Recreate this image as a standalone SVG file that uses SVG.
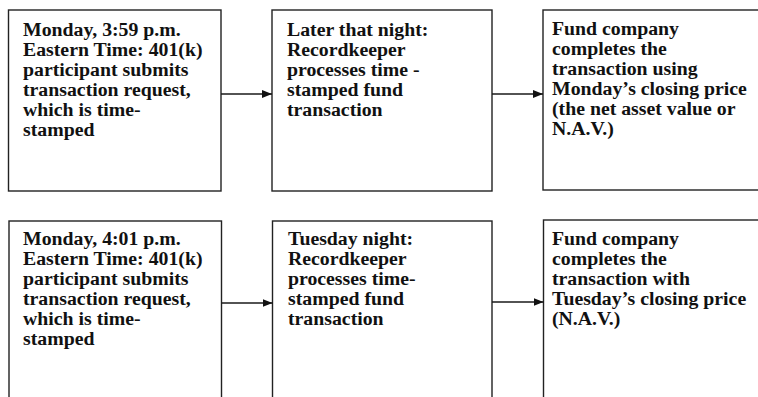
<svg xmlns="http://www.w3.org/2000/svg" width="758" height="397" viewBox="0 0 758 397">
<defs>
<style>
.box{fill:#fff;stroke:#222;stroke-width:1.4}
.t{font-family:"Liberation Serif","Times New Roman",serif;font-weight:bold;font-size:19.8px;fill:#111}
.c{stroke:#1a1a1a;stroke-width:1.3;fill:none}
</style>
<marker id="ah" viewBox="0 0 10 10" refX="10" refY="5" markerWidth="10" markerHeight="10" markerUnits="userSpaceOnUse" orient="auto">
<path d="M0,1 L10,5 L0,9 Z" fill="#111"/>
</marker>
</defs>
<rect width="758" height="397" fill="#fff"/>
<g id="n1">
<rect class="box" x="8.5" y="10" width="212.5" height="181"/>
<text class="t" x="23" y="35.5"><tspan x="23">Monday, 3:59 p.m.</tspan><tspan x="23" dy="20">Eastern Time: 401(k)</tspan><tspan x="23" dy="20">participant submits</tspan><tspan x="23" dy="20">transaction request,</tspan><tspan x="23" dy="20">which is time-</tspan><tspan x="23" dy="20">stamped</tspan></text>
</g>
<g id="n2">
<rect class="box" x="272" y="10" width="220" height="181"/>
<text class="t" x="287" y="35.5"><tspan x="287">Later that night:</tspan><tspan x="287" dy="20">Recordkeeper</tspan><tspan x="287" dy="20">processes time -</tspan><tspan x="287" dy="20">stamped fund</tspan><tspan x="287" dy="20">transaction</tspan></text>
</g>
<g id="n3">
<rect class="box" x="543" y="10" width="230" height="180"/>
<text class="t" x="552" y="35"><tspan x="552">Fund company</tspan><tspan x="552" dy="20">completes the</tspan><tspan x="552" dy="20">transaction using</tspan><tspan x="552" dy="20">Monday’s closing price</tspan><tspan x="552" dy="20">(the net asset value or</tspan><tspan x="552" dy="20">N.A.V.)</tspan></text>
</g>
<g id="n4">
<rect class="box" x="9" y="221" width="212.5" height="200"/>
<text class="t" x="23" y="244.5"><tspan x="23">Monday, 4:01 p.m.</tspan><tspan x="23" dy="20">Eastern Time: 401(k)</tspan><tspan x="23" dy="20">participant submits</tspan><tspan x="23" dy="20">transaction request,</tspan><tspan x="23" dy="20">which is time-</tspan><tspan x="23" dy="20">stamped</tspan></text>
</g>
<g id="n5">
<rect class="box" x="272.5" y="221" width="219.5" height="200"/>
<text class="t" x="288" y="245"><tspan x="288">Tuesday night:</tspan><tspan x="288" dy="20">Recordkeeper</tspan><tspan x="288" dy="20">processes time-</tspan><tspan x="288" dy="20">stamped fund</tspan><tspan x="288" dy="20">transaction</tspan></text>
</g>
<g id="n6">
<rect class="box" x="543.5" y="220" width="230" height="200"/>
<text class="t" x="552" y="244.5"><tspan x="552">Fund company</tspan><tspan x="552" dy="20">completes the</tspan><tspan x="552" dy="20">transaction with</tspan><tspan x="552" dy="20">Tuesday’s closing price</tspan><tspan x="552" dy="20">(N.A.V.)</tspan></text>
</g>
<g id="connectors">
<line class="c" x1="221" y1="94" x2="272" y2="94" marker-end="url(#ah)"/>
<line class="c" x1="492" y1="94" x2="543" y2="94" marker-end="url(#ah)"/>
<line class="c" x1="221.5" y1="303" x2="272.5" y2="303" marker-end="url(#ah)"/>
<line class="c" x1="492" y1="302" x2="543.5" y2="302" marker-end="url(#ah)"/>
</g>
</svg>
